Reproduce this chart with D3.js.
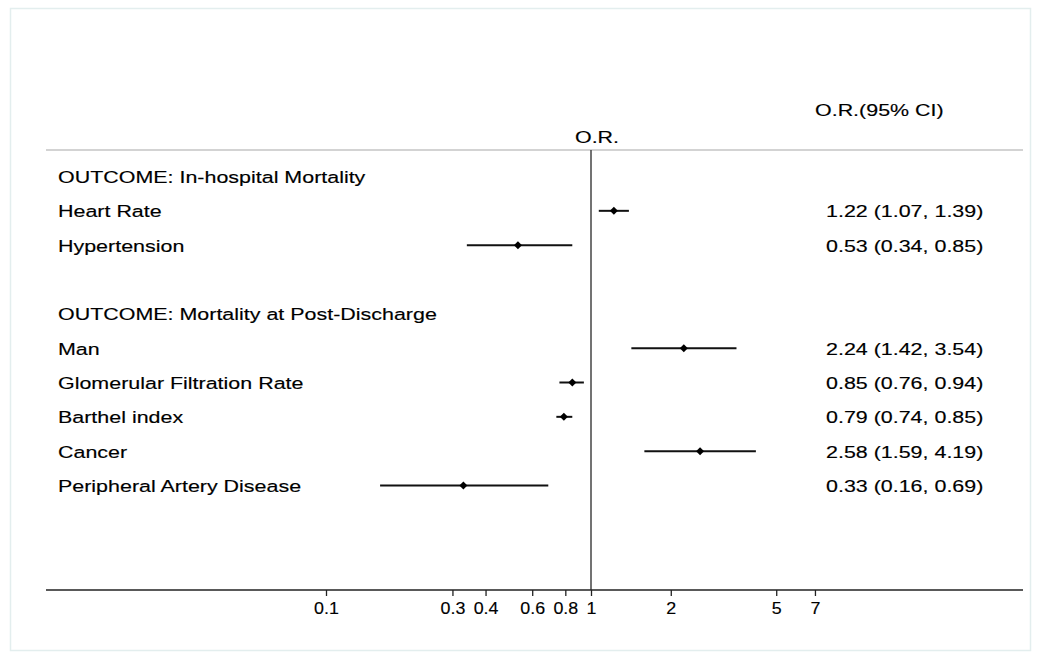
<!DOCTYPE html>
<html>
<head>
<meta charset="utf-8">
<script src="https://cdn.jsdelivr.net/npm/d3@7"></script>
<style>
	body { margin: 0; background: #fff; }
	svg text { font-family: "Liberation Sans", Arial, sans-serif; font-size: 16.5px; fill: #000; stroke: #000; stroke-width: 0.15px; }
</style>
</head>
<body>
<svg class="forest" width="1037" height="653"></svg>
<script>
/* Forest plot of odds ratios with 95% CI */

// Rows, top to bottom (null = heading / blank row)
var rowLabels = [
	"OUTCOME: In-hospital Mortality",
	"Heart Rate",
	"Hypertension",
	"",
	"OUTCOME: Mortality at Post-Discharge",
	"Man",
	"Glomerular Filtration Rate",
	"Barthel index",
	"Cancer",
	"Peripheral Artery Disease"
];
var oddsRatio = [null, 1.22, 0.53, null, null, 2.24, 0.85, 0.79, 2.58, 0.33];
var ciLow     = [null, 1.07, 0.34, null, null, 1.42, 0.76, 0.74, 1.59, 0.16];
var ciHigh    = [null, 1.39, 0.85, null, null, 3.54, 0.94, 0.85, 4.19, 0.69];
var tickVals  = [0.1, 0.3, 0.4, 0.6, 0.8, 1, 2, 5, 7];

function drawForest(areaID) {

	var plotLeft = 46,
		plotRight = 1023,
		plotTop = 150,
		axisY = 590,
		stretch = 1.3;	// text in the original is wide

	var x = d3.scaleLog()
		.domain([0.1, 1])
		.range([326, 591]);

	var y = d3.scaleLinear()
		.domain([0, rowLabels.length - 1])
		.range([176.5, 485.5]);

	var fmt = d3.format(".2f");

	var chart = d3.select("." + areaID);

	// put a horizontally stretched text
	function addText(px, py, str, anchor) {
		return chart.append("text")
			.attr("transform", "translate(" + px + "," + py + ") scale(" + stretch + ",1)")
			.attr("dy", "0.4em")
			.attr("text-anchor", anchor || "start")
			.text(str);
	}

	// faint frame
	chart.append("rect")
		.attr("x", 10.5).attr("y", 8.5)
		.attr("width", 1020).attr("height", 642)
		.attr("fill", "none")
		.attr("stroke", "#e3eeee")
		.attr("stroke-width", 1.5);

	// headers
	addText(815, 109.5, "O.R.(95% CI)");
	addText(x(1) + 6, 136.5, "O.R.", "middle");

	// top rule
	chart.append("line")
		.attr("x1", plotLeft).attr("x2", plotRight)
		.attr("y1", plotTop).attr("y2", plotTop)
		.attr("stroke", "#c4c4c4")
		.attr("stroke-width", 1.5);

	// line of no effect
	chart.append("line")
		.attr("x1", x(1)).attr("x2", x(1))
		.attr("y1", plotTop).attr("y2", axisY)
		.attr("stroke", "#444")
		.attr("stroke-width", 1.5);

	// x axis
	var xAxis = d3.axisBottom(x)
		.tickValues(tickVals)
		.tickSize(6)
		.tickFormat(function(d) { return d3.format("")(d); });

	var ax = chart.append("g")
		.attr("class", "x axis")
		.attr("transform", "translate(0," + axisY + ")")
		.call(xAxis);
	ax.select(".domain").remove();
	ax.selectAll(".tick line").attr("stroke", "#222").attr("stroke-width", 1.3);
	ax.selectAll(".tick text")
		.attr("y", 12)
		.attr("dy", "0.71em")
		.attr("transform", "scale(1.05,1)")
		.style("font-size", "17px")
		.style("font-family", "'Liberation Sans', Arial, sans-serif")
		.attr("fill", "#000");
	chart.append("line")
		.attr("x1", plotLeft).attr("x2", plotRight)
		.attr("y1", axisY).attr("y2", axisY)
		.attr("stroke", "#222")
		.attr("stroke-width", 1.6);

	// row labels
	rowLabels.forEach(function(lab, i) {
		if (lab) addText(58, y(i), lab);
	});

	var rows = d3.range(rowLabels.length).filter(function(i) { return oddsRatio[i] != null; });

	// CI lines
	chart.selectAll(".ci")
		.data(rows)
	  .enter().append("line")
		.attr("class", "ci")
		.attr("x1", function(i) { return x(ciLow[i]); })
		.attr("x2", function(i) { return x(ciHigh[i]); })
		.attr("y1", function(i) { return y(i); })
		.attr("y2", function(i) { return y(i); })
		.attr("stroke", "#111")
		.attr("stroke-width", 2);

	// point estimates (square turned 45 degrees)
	chart.selectAll(".pt")
		.data(rows)
	  .enter().append("path")
		.attr("class", "pt")
		.attr("d", d3.symbol().type(d3.symbolSquare).size(32))
		.attr("transform", function(i) { return "translate(" + x(oddsRatio[i]) + "," + y(i) + ") rotate(45)"; })
		.attr("fill", "#000");

	// estimate text
	rows.forEach(function(i) {
		addText(826, y(i), fmt(oddsRatio[i]) + " (" + fmt(ciLow[i]) + ", " + fmt(ciHigh[i]) + ")");
	});
}

drawForest("forest");
</script>
</body>
</html>
